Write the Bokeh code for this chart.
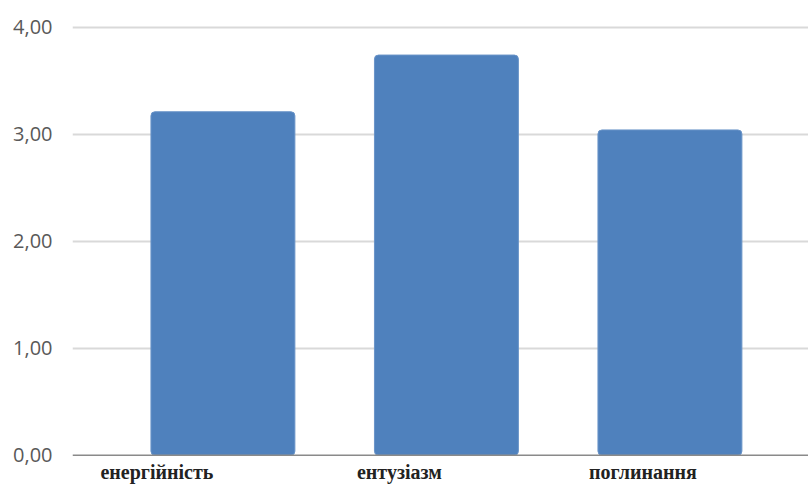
from bokeh.plotting import figure
from bokeh.models import ColumnDataSource, FixedTicker, Range1d, Span
from bokeh.core.properties import value
from bokeh.embed import file_html
from bokeh.resources import INLINE

# Average scores per component
categories = ["енергійність", "ентузіазм", "поглинання"]
scores = [3.21, 3.74, 3.04]
y_ticks = [0, 1, 2, 3, 4]
y_tick_labels = ["0,00", "1,00", "2,00", "3,00", "4,00"]

idx = list(range(len(categories)))
label_shift = [-66, -47, -27]  # px, horizontal nudge of category captions

p = figure(width=808, height=484, output_backend="svg", toolbar_location=None,
           x_range=Range1d(-0.673, 2.62), y_range=Range1d(-0.274, 4.25),
           min_border_left=72, min_border_right=0, min_border_top=0,
           min_border_bottom=0)
p.outline_line_color = None
p.background_fill_color = "white"
p.border_fill_color = "white"

bars = ColumnDataSource(dict(x=idx, top=scores))
p.vbar(x="x", top="top", bottom=0, width=0.644, source=bars,
       fill_color="#4f81bd", line_color="#6a94c8", line_width=1,
       border_radius=4)

base = Span(location=0, dimension="width", line_color="#8a8a8a", line_width=1.5)
p.add_layout(base)

labels = ColumnDataSource(dict(x=idx, y=[0] * len(idx), text=categories, dx=label_shift))
p.text(x="x", y="y", text="text", x_offset="dx", y_offset=6, source=labels,
       text_font=value("Liberation Serif"), text_font_size="20px",
       text_font_style="bold", text_color="#222222",
       text_align="center", text_baseline="top")

p.xaxis.visible = False
p.xgrid.visible = False

ya = p.yaxis[0]
ya.ticker = FixedTicker(ticks=y_ticks)
ya.major_label_overrides = {t: s for t, s in zip(y_ticks, y_tick_labels)}
ya.axis_line_color = None
ya.major_tick_line_color = None
ya.minor_tick_line_color = None
ya.major_label_text_font = "Open Sans"
ya.major_label_text_font_size = "20px"
ya.major_label_text_color = "#595959"
ya.major_label_standoff = 14

p.ygrid.ticker = FixedTicker(ticks=y_ticks[1:])
p.ygrid.grid_line_color = "#d9d9d9"
p.ygrid.grid_line_width = 2

open("out.html", "w").write(file_html(p, INLINE))
